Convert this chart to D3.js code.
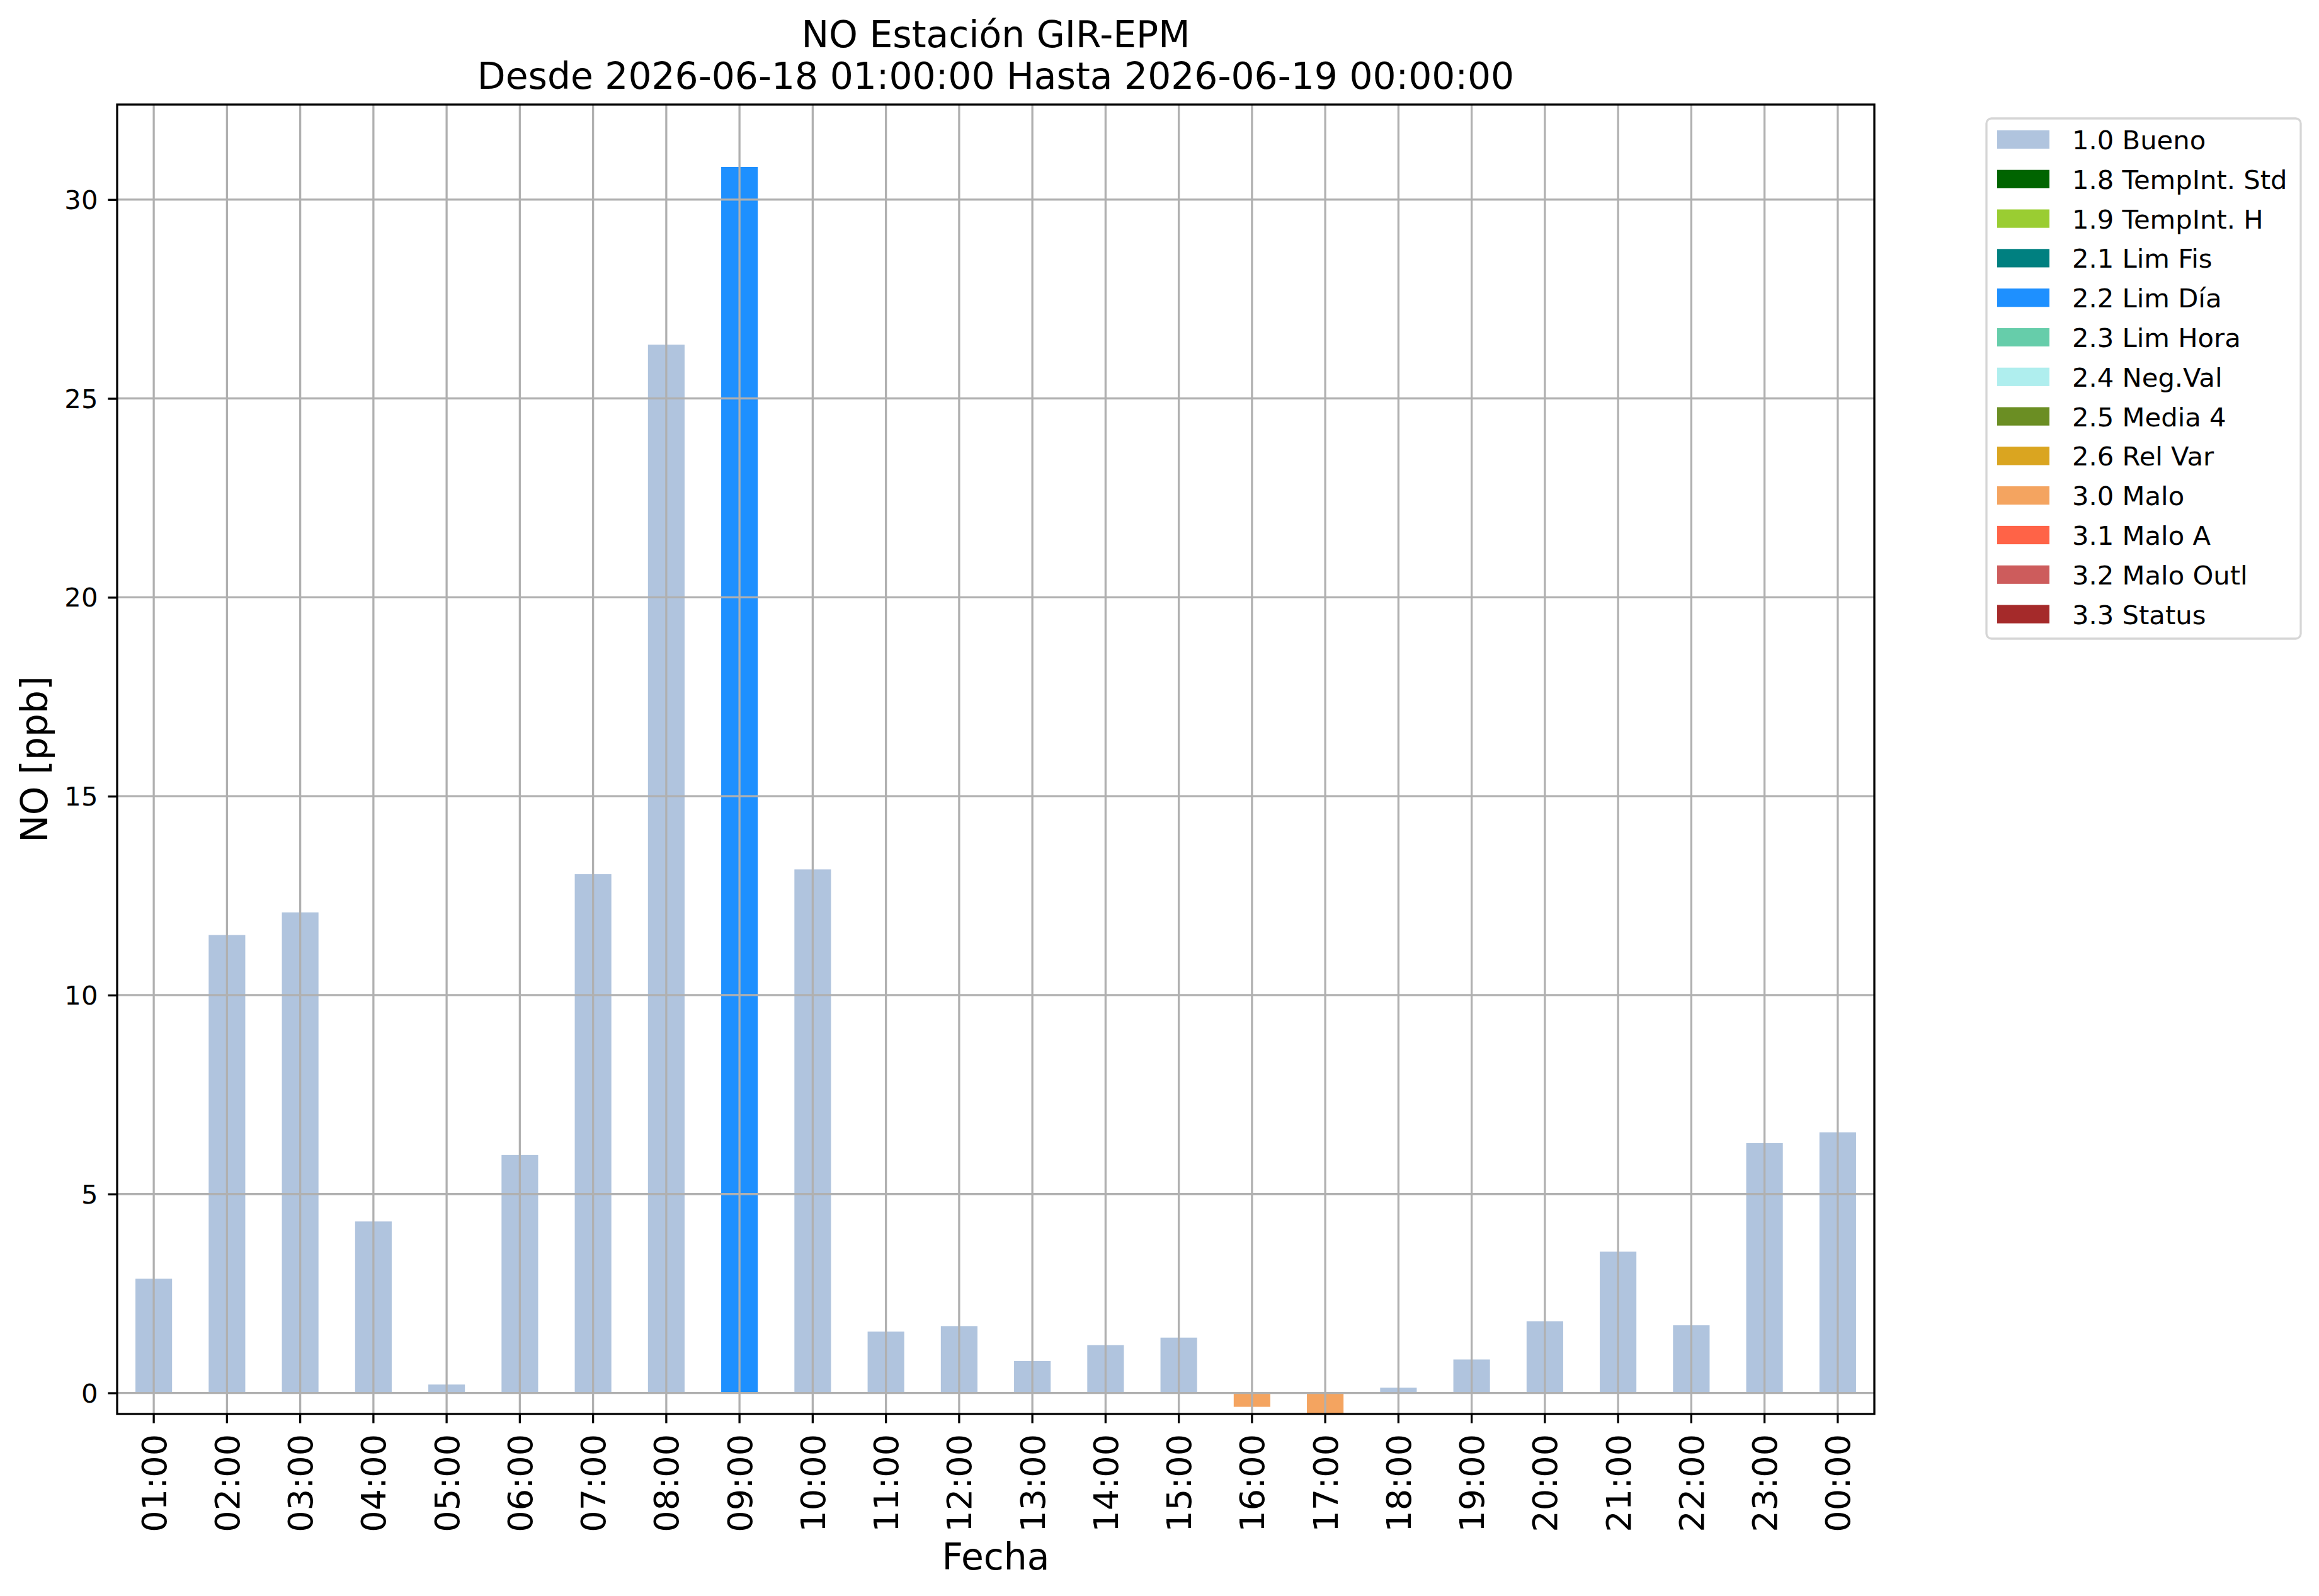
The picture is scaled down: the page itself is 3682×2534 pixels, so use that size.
<!DOCTYPE html>
<html>
<head>
<meta charset="utf-8">
<script src="https://cdn.jsdelivr.net/npm/d3@7"></script>
<style>
  html, body { margin: 0; padding: 0; background: #ffffff; }
  svg { display: block; font-family: "DejaVu Sans", sans-serif; }
</style>
</head>
<body>
<svg id="chart" width="3682" height="2534"></svg>
<script>
// ---- data ----
const hours = ["01:00","02:00","03:00","04:00","05:00","06:00","07:00","08:00","09:00","10:00","11:00","12:00",
               "13:00","14:00","15:00","16:00","17:00","18:00","19:00","20:00","21:00","22:00","23:00","00:00"];
const values = [2.87, 11.51, 12.08, 4.31, 0.21, 5.98, 13.04, 26.35, 30.82, 13.16, 1.54, 1.68,
                0.80, 1.20, 1.39, -0.35, -0.53, 0.13, 0.84, 1.80, 3.55, 1.70, 6.28, 6.55];
const flags = ["1.0 Bueno","1.0 Bueno","1.0 Bueno","1.0 Bueno","1.0 Bueno","1.0 Bueno","1.0 Bueno","1.0 Bueno",
               "2.2 Lim Día","1.0 Bueno","1.0 Bueno","1.0 Bueno","1.0 Bueno","1.0 Bueno","1.0 Bueno",
               "3.0 Malo","3.0 Malo","1.0 Bueno","1.0 Bueno","1.0 Bueno","1.0 Bueno","1.0 Bueno","1.0 Bueno","1.0 Bueno"];
const legendLabels = ["1.0 Bueno","1.8 TempInt. Std","1.9 TempInt. H","2.1 Lim Fis","2.2 Lim Día","2.3 Lim Hora",
                      "2.4 Neg.Val","2.5 Media 4","2.6 Rel Var","3.0 Malo","3.1 Malo A","3.2 Malo Outl","3.3 Status"];
const legendColors = ["#b0c4de","#006400","#9acd32","#008080","#1e90ff","#66cdaa",
                      "#afeeee","#6b8e23","#daa520","#f4a460","#ff6347","#cd5c5c","#a52a2a"];
const yTicks = [0, 5, 10, 15, 20, 25, 30];
const titleLines = ["NO Estación GIR-EPM", "Desde 2026-06-18 01:00:00 Hasta 2026-06-19 00:00:00"];
const xLabel = "Fecha";
const yLabel = "NO [ppb]";

// ---- layout ----
const svg = d3.select("#chart");
const W = 3682, H = 2534;
const ax = { left: 186, right: 2976, top: 166, bottom: 2245 };
const lw = 3.3;
const gridColor = "#b0b0b0";

svg.append("rect").attr("x", 0).attr("y", 0).attr("width", W).attr("height", H).attr("fill", "#ffffff");

const x = d3.scaleBand().domain(hours).range([ax.left, ax.right]).paddingInner(0.5).paddingOuter(0.25);
const vmin = d3.min(values), vmax = d3.max(values);
const y = d3.scaleLinear().domain([Math.min(0, vmin), vmax + 0.05 * (vmax - Math.min(0, vmin))])
  .range([ax.bottom, ax.top]);

const color = d3.scaleOrdinal().domain(legendLabels).range(legendColors);

// bars
svg.append("g").selectAll("rect").data(hours).join("rect")
  .attr("x", d => x(d))
  .attr("width", x.bandwidth())
  .attr("y", (d, i) => y(Math.max(0, values[i])))
  .attr("height", (d, i) => Math.abs(y(values[i]) - y(0)))
  .attr("fill", (d, i) => color(flags[i]));

// grid (above bars like matplotlib)
const grid = svg.append("g");
grid.selectAll("line.v").data(hours).join("line").attr("class", "v")
  .attr("x1", d => x(d) + x.bandwidth() / 2).attr("x2", d => x(d) + x.bandwidth() / 2)
  .attr("y1", ax.top).attr("y2", ax.bottom)
  .attr("stroke", gridColor).attr("stroke-width", lw);
grid.selectAll("line.h").data(yTicks).join("line").attr("class", "h")
  .attr("x1", ax.left).attr("x2", ax.right)
  .attr("y1", d => y(d)).attr("y2", d => y(d))
  .attr("stroke", gridColor).attr("stroke-width", lw);

// axes
const xAxis = d3.axisBottom(x).tickSizeInner(14.6).tickSizeOuter(0).tickPadding(18);
const gx = svg.append("g").attr("transform", `translate(0,${ax.bottom})`).call(xAxis);
gx.select(".domain").remove();
gx.selectAll(".tick line").attr("stroke", "#000").attr("stroke-width", lw);
gx.selectAll(".tick text")
  .attr("font-family", "DejaVu Sans").attr("font-size", 54).attr("fill", "#000")
  .attr("text-anchor", "end")
  .attr("transform", "rotate(-90)")
  .attr("x", -32).attr("y", 0).attr("dy", "0.36em");

const yAxis = d3.axisLeft(y).tickValues(yTicks).tickFormat(d3.format("d")).tickSizeInner(14.6).tickSizeOuter(0).tickPadding(16);
const gy = svg.append("g").attr("transform", `translate(${ax.left},0)`).call(yAxis);
gy.select(".domain").remove();
gy.selectAll(".tick line").attr("stroke", "#000").attr("stroke-width", lw);
gy.selectAll(".tick text")
  .attr("font-family", "DejaVu Sans").attr("font-size", 41.7).attr("fill", "#000")
  .attr("dy", "0.35em");

// spines
svg.append("rect").attr("x", ax.left).attr("y", ax.top)
  .attr("width", ax.right - ax.left).attr("height", ax.bottom - ax.top)
  .attr("fill", "none").attr("stroke", "#000").attr("stroke-width", lw);

// titles
const cx = (ax.left + ax.right) / 2;
svg.append("text").attr("x", cx).attr("y", 75).attr("text-anchor", "middle")
  .attr("font-size", 58.3).attr("fill", "#000").text(titleLines[0]);
svg.append("text").attr("x", cx).attr("y", 141).attr("text-anchor", "middle")
  .attr("font-size", 58.3).attr("fill", "#000").text(titleLines[1]);

svg.append("text").attr("x", cx).attr("y", 2492).attr("text-anchor", "middle")
  .attr("font-size", 58.3).attr("fill", "#000").text(xLabel);

svg.append("text").attr("transform", `translate(75,${(ax.top + ax.bottom) / 2}) rotate(-90)`)
  .attr("text-anchor", "middle").attr("font-size", 58.3).attr("fill", "#000").text(yLabel);

// legend
const leg = svg.append("g");
leg.append("rect").attr("x", 3154).attr("y", 188).attr("width", 499).attr("height", 826)
  .attr("rx", 8).attr("ry", 8)
  .attr("fill", "#ffffff").attr("fill-opacity", 0.8)
  .attr("stroke", "#d6d6d6").attr("stroke-width", 3.3);
const rowY = d3.scaleLinear().domain([0, legendLabels.length - 1]).range([221.5, 221.5 + 62.8 * (legendLabels.length - 1)]);
const items = leg.selectAll("g.item").data(legendLabels).join("g").attr("class", "item")
  .attr("transform", (d, i) => `translate(0,${rowY(i)})`);
items.append("rect").attr("x", 3171).attr("y", -14.6).attr("width", 83).attr("height", 29.2)
  .attr("fill", d => color(d));
items.append("text").attr("x", 3290).attr("y", 15.5).attr("font-size", 41.7).attr("fill", "#000")
  .text(d => d);
</script>
</body>
</html>
